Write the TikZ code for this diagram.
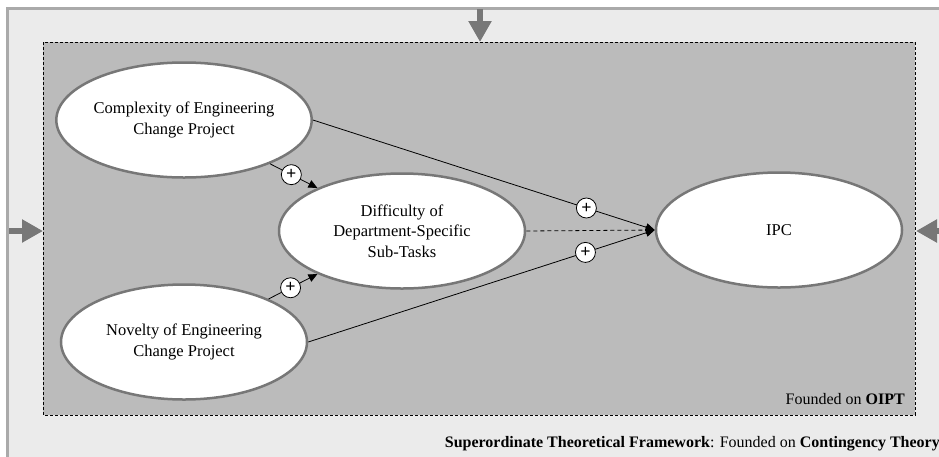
\documentclass[tikz,border=0pt]{standalone}
\usepackage{fontspec}
\setmainfont{Liberation Serif}
\usetikzlibrary{arrows.meta,shapes.geometric}
\definecolor{outerfill}{HTML}{EBEBEB}
\definecolor{outerline}{HTML}{AAAAAA}
\definecolor{innerfill}{HTML}{BBBBBB}
\definecolor{bigarrow}{HTML}{777777}
\definecolor{ellline}{HTML}{777777}
\tikzset{
  construct/.style={ellipse, draw=ellline, line width=2.5pt, fill=white,
    minimum width=246pt, minimum height=115pt, inner sep=0pt, align=center,
    font=\fontsize{16.5}{20.5}\selectfont},
  conn/.style={line width=0.8pt, -{Triangle[length=9pt,width=8pt]}},
  plus/.style={circle, draw=black, line width=0.8pt, fill=white, minimum size=20pt, inner sep=0pt,
    font=\fontsize{18}{18}\selectfont\bfseries},
  bigarr/.style={line width=6pt, draw=bigarrow, -{Triangle[length=21pt,width=22pt]}},
  lbl/.style={font=\fontsize{16}{19}\selectfont, inner sep=0pt}
}
\begin{document}
\begin{tikzpicture}[x=1pt,y=-1pt]
\useasboundingbox (0,0) rectangle (939,456);
\clip (0,0) rectangle (939,456);
% outer framework
\draw[fill=outerfill, draw=outerline, line width=3pt] (7.5,8.5) rectangle (980,500);
% inner box
\draw[fill=innerfill, draw=black, line width=0.8pt, dash pattern=on 3pt off 2pt] (43,42) rectangle (915,415);
\coordinate (topS) at (480,9);
\coordinate (topE) at (480,42);
\coordinate (leftS) at (9,231);
\coordinate (leftE) at (43,231);
\coordinate (rightS) at (945,231);
\coordinate (rightE) at (916,231);
\draw[bigarr] (topS) -- (topE);
\draw[bigarr] (leftS) -- (leftE);
\draw[bigarr] (rightS) -- (rightE);
% constructs
\node[construct] (cx) at (184,120) {Complexity of Engineering\\Change Project};
\node[construct] (nv) at (184,342) {Novelty of Engineering\\Change Project};
\node[construct] (df) at (402,231) {Difficulty of\\Department-Specific\\Sub-Tasks};
\node[construct] (ipc) at (779,230) {IPC};
% connectors
\draw[conn] (cx) -- node[plus, pos=0.45] {+} (df);
\draw[conn] (nv) -- node[plus, pos=0.45] {+} (df);
\draw[conn] (cx.east) -- node[plus, pos=0.8] {+} (ipc.west);
\draw[conn] (nv.east) -- node[plus, pos=0.8] {+} (ipc.west);
\draw[conn, dash pattern=on 4pt off 3pt] (df.east) -- (ipc.west);
% labels
\node[lbl, anchor=base east] (oipt) at (905,404) {Founded on \textbf{OIPT}};
\node[lbl, anchor=base east] (sup) at (940,447) {\textbf{Superordinate Theoretical Framework}: Founded on \textbf{Contingency Theory}};
\end{tikzpicture}
\end{document}
